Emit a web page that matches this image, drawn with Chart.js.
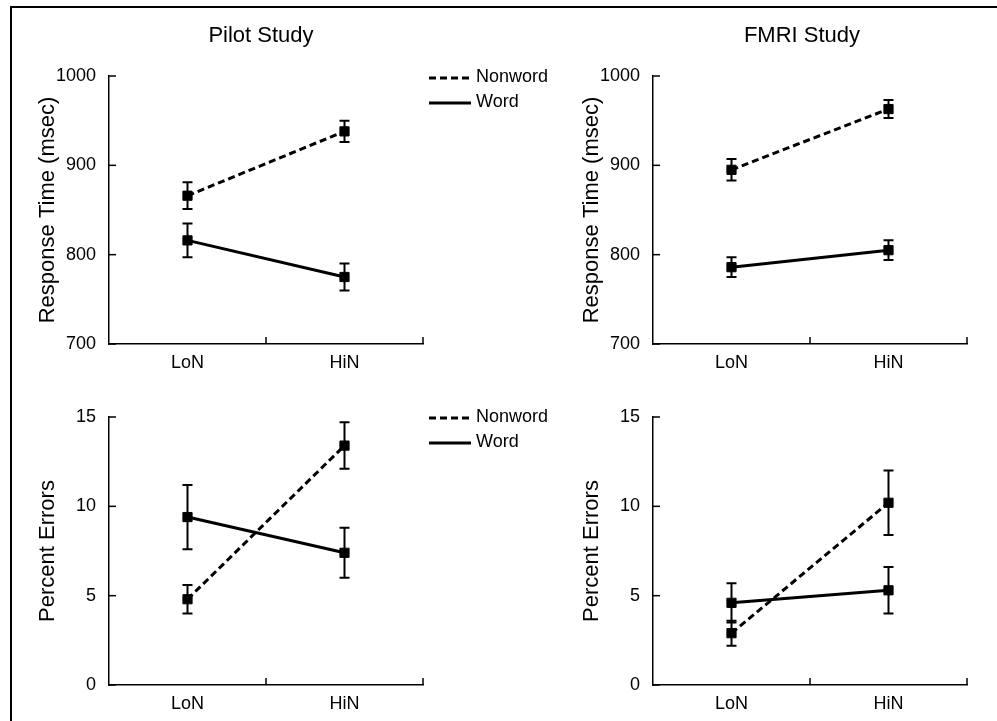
<!DOCTYPE html>
<html>
<head>
<meta charset="utf-8">
<script src="https://cdn.jsdelivr.net/npm/chart.js@4.4.1/dist/chart.umd.min.js"></script>
<style>
  html, body { margin: 0; padding: 0; background: #fff; overflow: hidden; }
  #wrap { position: relative; width: 997px; height: 721px; overflow: hidden; background: #fff; }
  #wrap canvas { position: absolute; left: 0; top: 0; }
  #frame { position: absolute; left: 10px; top: 6px; width: 1100px; height: 900px;
           border-left: 2px solid #000; border-top: 2px solid #000; }
</style>
</head>
<body>
<div id="wrap">
  <div id="frame"></div>
  <canvas id="c1" width="997" height="721"></canvas>
  <canvas id="c2" width="997" height="721"></canvas>
  <canvas id="c3" width="997" height="721"></canvas>
  <canvas id="c4" width="997" height="721"></canvas>
</div>
<script>
// ---------- data ----------
const categories = ['LoN', 'HiN'];
const seriesNames = ['Nonword', 'Word'];

const pilotRTNonword = [866, 938];
const pilotRTNonwordErr = [15, 12];
const pilotRTWord = [816, 775];
const pilotRTWordErr = [19, 15];

const fmriRTNonword = [895, 963];
const fmriRTNonwordErr = [12, 10];
const fmriRTWord = [786, 805];
const fmriRTWordErr = [11, 11];

const pilotErrNonword = [4.8, 13.4];
const pilotErrNonwordErr = [0.8, 1.3];
const pilotErrWord = [9.4, 7.4];
const pilotErrWordErr = [1.8, 1.4];

const fmriErrNonword = [2.9, 10.2];
const fmriErrNonwordErr = [0.7, 1.8];
const fmriErrWord = [4.6, 5.3];
const fmriErrWordErr = [1.1, 1.3];

const rtTicks = [700, 800, 900, 1000];
const errTicks = [0, 5, 10, 15];
const panelTitles = ['Pilot Study', 'FMRI Study'];
const rtAxisTitle = 'Response Time (msec)';
const errAxisTitle = 'Percent Errors';

// ---------- styling ----------
const FONT = "'Liberation Sans', Arial, Helvetica, sans-serif";

// error bars + inward ticks + legend + title
const decorPlugin = {
  id: 'decor',
  beforeDatasetsDraw(chart) {
    const ctx = chart.ctx;
    const xs = chart.scales.x, ys = chart.scales.y;
    ctx.save();
    ctx.strokeStyle = '#000';
    ctx.lineWidth = 2;
    chart.data.datasets.forEach(ds => {
      ds.data.forEach((v, i) => {
        const e = ds.errors[i];
        const x = xs.getPixelForValue(i);
        const yt = ys.getPixelForValue(v + e);
        const yb = ys.getPixelForValue(v - e);
        ctx.beginPath();
        ctx.moveTo(x, yt); ctx.lineTo(x, yb);
        ctx.moveTo(x - 5, yt); ctx.lineTo(x + 5, yt);
        ctx.moveTo(x - 5, yb); ctx.lineTo(x + 5, yb);
        ctx.stroke();
      });
    });
    ctx.restore();
  },
  afterDraw(chart) {
    const ctx = chart.ctx;
    const xs = chart.scales.x, ys = chart.scales.y;
    const ca = chart.chartArea;
    const o = chart.options.plugins.decor;
    ctx.save();
    ctx.strokeStyle = '#000';
    ctx.lineWidth = 1.5;
    // y ticks inward
    ys.ticks.forEach(t => {
      const y = ys.getPixelForValue(t.value);
      ctx.beginPath(); ctx.moveTo(ca.left, y); ctx.lineTo(ca.left + 7, y); ctx.stroke();
    });
    // x ticks (category boundaries) inward
    const p0 = xs.getPixelForValue(0), p1 = xs.getPixelForValue(1);
    const mid = (p0 + p1) / 2;
    [mid, ca.right].forEach(x => {
      ctx.beginPath(); ctx.moveTo(x, ca.bottom); ctx.lineTo(x, ca.bottom - 7); ctx.stroke();
    });
    // title
    if (o.title) {
      ctx.fillStyle = '#000';
      ctx.font = '22px ' + FONT;
      ctx.textAlign = 'center';
      ctx.textBaseline = 'alphabetic';
      ctx.fillText(o.title, o.titleX, 42);
    }
    // legend
    if (o.legend) {
      ctx.font = '18px ' + FONT;
      ctx.textAlign = 'left';
      ctx.textBaseline = 'middle';
      chart.data.datasets.forEach((ds, k) => {
        const y = o.legendY + k * 25;
        ctx.save();
        ctx.lineWidth = 3;
        ctx.setLineDash(ds.borderDash || []);
        ctx.beginPath(); ctx.moveTo(ca.right + 6, y + 1); ctx.lineTo(ca.right + 48, y + 1); ctx.stroke();
        ctx.restore();
        ctx.fillStyle = '#000';
        ctx.fillText(ds.label, ca.right + 53, y);
      });
    }
    ctx.restore();
  }
};

function makeChart(id, opts) {
  const datasets = [
    { label: seriesNames[0], data: opts.nonword, errors: opts.nonwordErr, borderDash: [7, 4] },
    { label: seriesNames[1], data: opts.word, errors: opts.wordErr, borderDash: [] }
  ].map(d => Object.assign(d, {
    borderColor: '#000', backgroundColor: '#000', borderWidth: 3,
    pointStyle: 'rect', pointRadius: 6.5, pointBorderWidth: 1,
    pointBackgroundColor: '#000', pointBorderColor: '#000', tension: 0
  }));
  return new Chart(document.getElementById(id), {
    type: 'line',
    data: { labels: categories, datasets },
    options: {
      responsive: false, animation: false,
      layout: { padding: { left: opts.left - 74, top: opts.top, right: 997 - (opts.left + 314), bottom: 721 - (opts.top + 268) - 40 } },
      plugins: {
        legend: { display: false }, tooltip: { enabled: false },
        decor: { title: opts.title, titleX: opts.titleX, legend: opts.legend, legendY: opts.legendY }
      },
      scales: {
        x: {
          type: 'category', offset: true,
          grid: { display: false, offset: true },
          border: { display: true, color: '#000', width: 1.5 },
          ticks: { color: '#000', font: { family: FONT, size: 18 }, padding: 0 },
          afterFit(s) { s.height = 40; }
        },
        y: {
          min: opts.ticks[0], max: opts.ticks[opts.ticks.length - 1],
          afterBuildTicks(s) { s.ticks = opts.ticks.map(v => ({ value: v })); },
          grid: { display: false },
          border: { display: true, color: '#000', width: 1.5 },
          ticks: { color: '#000', font: { family: FONT, size: 18 }, padding: 5, callback: v => String(v) },
          title: { display: true, text: opts.yTitle, color: '#000', font: { family: FONT, size: 22 }, padding: { top: 0, bottom: 0 } },
          afterFit(s) { s.width = 74; }
        }
      }
    },
    plugins: [decorPlugin]
  });
}

makeChart('c1', { left: 109, top: 76, nonword: pilotRTNonword, nonwordErr: pilotRTNonwordErr, word: pilotRTWord, wordErr: pilotRTWordErr,
  ticks: rtTicks, yTitle: rtAxisTitle, title: panelTitles[0], titleX: 261, legend: true, legendY: 77 });
makeChart('c2', { left: 653, top: 76, nonword: fmriRTNonword, nonwordErr: fmriRTNonwordErr, word: fmriRTWord, wordErr: fmriRTWordErr,
  ticks: rtTicks, yTitle: rtAxisTitle, title: panelTitles[1], titleX: 802, legend: false });
makeChart('c3', { left: 109, top: 417, nonword: pilotErrNonword, nonwordErr: pilotErrNonwordErr, word: pilotErrWord, wordErr: pilotErrWordErr,
  ticks: errTicks, yTitle: errAxisTitle, legend: true, legendY: 417 });
makeChart('c4', { left: 653, top: 417, nonword: fmriErrNonword, nonwordErr: fmriErrNonwordErr, word: fmriErrWord, wordErr: fmriErrWordErr,
  ticks: errTicks, yTitle: errAxisTitle, legend: false });
</script>
</body>
</html>
